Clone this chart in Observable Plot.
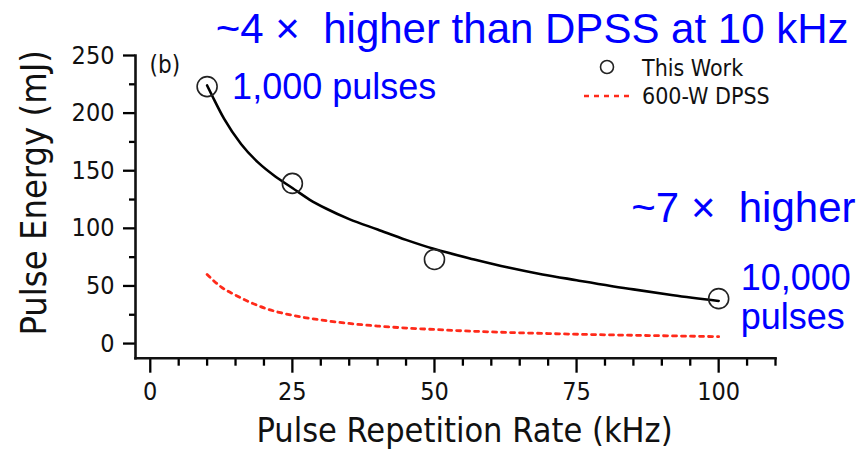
<!DOCTYPE html>
<html><head><meta charset="utf-8">
<script src="https://cdn.jsdelivr.net/npm/d3@7"></script>
<script src="https://cdn.jsdelivr.net/npm/@observablehq/plot@0.6"></script>
<style>
html,body{margin:0;padding:0;background:#fff;}
#chart{width:856px;height:449px;}
</style></head><body><div id="chart"></div>
<script>
// ---- data ----
const rates = [10, 25, 50, 100];                 // kHz, "This Work" measurements
const thisWork = [223, 139, 73, 39];             // mJ
const fitRate = [10, 11, 13, 16, 19, 22, 25, 28, 31, 35, 40, 45, 50, 57, 63, 69, 75, 85, 92, 100];
const fitEnergy = [224, 214, 195, 173, 157, 145, 135, 125, 117, 108, 99, 90, 82, 73, 66, 60, 55, 47, 42, 37];
const dpssRate = [10, 12.5, 15, 17.5, 20, 25, 30, 35, 40, 50, 60, 70, 80, 90, 100];
const dpssEnergy = [60, 49, 42, 36, 31, 24.5, 20.5, 17.5, 15.2, 12.2, 10.1, 8.7, 7.6, 6.8, 6];
const xMajorTicks = [0, 25, 50, 75, 100];
const xMinorTicks = [5, 10, 15, 20, 30, 35, 40, 45, 55, 60, 65, 70, 80, 85, 90, 95, 105, 110];
const yMajorTicks = [0, 50, 100, 150, 200, 250];
const yMinorTicks = [25, 75, 125, 175, 225];
const seriesNames = ["This Work", "600-W DPSS"];
const notes = ["~4 \u00d7\u00a0 higher than DPSS at 10 kHz", "~7 \u00d7\u00a0 higher", "1,000 pulses", "10,000\npulses"];
const xLabel = "Pulse Repetition Rate (kHz)";
const yLabel = "Pulse Energy (mJ)";
const panelTag = "(b)";

const points = rates.map((r, i) => ({rate: r, energy: thisWork[i]}));
const fit = fitRate.map((r, i) => ({rate: r, energy: fitEnergy[i]}));
const dpss = dpssRate.map((r, i) => ({rate: r, energy: dpssEnergy[i]}));

const FONT = '"DejaVu Sans Condensed", "DejaVu Sans", sans-serif';
const ARIAL = '"Liberation Sans", Arial, sans-serif';
const BLUE = "#0000ff";
const RED = "#ff2a1a";

const plot = Plot.plot({
  width: 856, height: 449,
  marginLeft: 135, marginRight: 81, marginTop: 55, marginBottom: 91.3,
  style: {fontFamily: FONT, background: "white", overflow: "visible", fontStretch: "condensed"},
  x: {domain: [-2.6, 110]},
  y: {domain: [-12.7, 250]},
  marks: [
    Plot.axisX({ticks: xMajorTicks, tickSize: 15, tickPadding: 9, fontSize: 25, label: null, strokeWidth: 2.3, tickFormat: d => String(d), fill: "#111"}),
    Plot.axisX({ticks: xMinorTicks, tickSize: 8, label: null, strokeWidth: 2.3, tickFormat: () => ""}),
    Plot.axisY({ticks: yMajorTicks, tickSize: 12, tickPadding: 9, fontSize: 25, label: null, strokeWidth: 2.3, tickFormat: d => String(d), fill: "#111"}),
    Plot.axisY({ticks: yMinorTicks, tickSize: 6, label: null, strokeWidth: 2.3, tickFormat: () => ""}),
    Plot.frame({anchor: "left", strokeWidth: 2.6, stroke: "#111"}),
    Plot.frame({anchor: "bottom", strokeWidth: 2.6, stroke: "#111"}),
    Plot.line(dpss, {x: "rate", y: "energy", stroke: RED, strokeWidth: 2.8, strokeDasharray: "4,5", curve: "monotone-x"}),
    Plot.line(fit, {x: "rate", y: "energy", stroke: "#000", strokeWidth: 2.6, curve: "monotone-x"}),
    Plot.dot(points, {x: "rate", y: "energy", r: 10, stroke: "#222", strokeWidth: 1.6, fill: "none"}),
    Plot.text([panelTag], {frameAnchor: "top-left", dx: 14, dy: 0, lineAnchor: "top", textAnchor: "start", fontSize: 24, fill: "#111"}),
    Plot.text([xLabel], {frameAnchor: "bottom", dx: 9, dy: 84, lineAnchor: "bottom", textAnchor: "middle", fontSize: 34, fill: "#111"}),
    Plot.text([yLabel], {frameAnchor: "left", dx: -90, dy: -14, rotate: -90, lineAnchor: "bottom", textAnchor: "middle", fontSize: 36, fill: "#111"}),
    Plot.text([notes[0]], {frameAnchor: "top-right", dx: 73, dy: -13, textAnchor: "end", lineAnchor: "bottom", fontSize: 42, fontFamily: ARIAL, fill: BLUE}),
    Plot.text([notes[1]], {frameAnchor: "top-right", dx: 80, dy: 166, textAnchor: "end", lineAnchor: "bottom", fontSize: 42, fontFamily: ARIAL, fill: BLUE}),
    Plot.text(points.filter(d => d.rate === rates[0]), {x: "rate", y: "energy", text: () => notes[2], dx: 25, dy: 12, textAnchor: "start", lineAnchor: "bottom", fontSize: 36, fontFamily: ARIAL, fill: BLUE}),
    Plot.text(points.filter(d => d.rate === rates[rates.length - 1]), {x: "rate", y: "energy", text: () => notes[3], dx: 22, dy: 30, textAnchor: "start", lineAnchor: "bottom", lineHeight: 1.06, fontSize: 36, fontFamily: ARIAL, fill: BLUE})
  ]
});

const svg = d3.select(plot);

// legend inside the plot area (top right)
const lg = svg.append("g").attr("font-family", FONT).attr("font-size", 23).attr("fill", "#111").attr("text-anchor", "start");
lg.append("circle").attr("cx", 607).attr("cy", 67).attr("r", 6.5).attr("fill", "none").attr("stroke", "#222").attr("stroke-width", 1.6);
lg.append("text").attr("x", 642).attr("y", 76).attr("text-anchor", "start").text(seriesNames[0]);
lg.append("line").attr("x1", 584).attr("x2", 631).attr("y1", 96).attr("y2", 96).attr("stroke", RED).attr("stroke-width", 2.6).attr("stroke-dasharray", "5,5");
lg.append("text").attr("x", 642).attr("y", 104).attr("text-anchor", "start").text(seriesNames[1]);

document.getElementById("chart").appendChild(plot);
</script></body></html>
